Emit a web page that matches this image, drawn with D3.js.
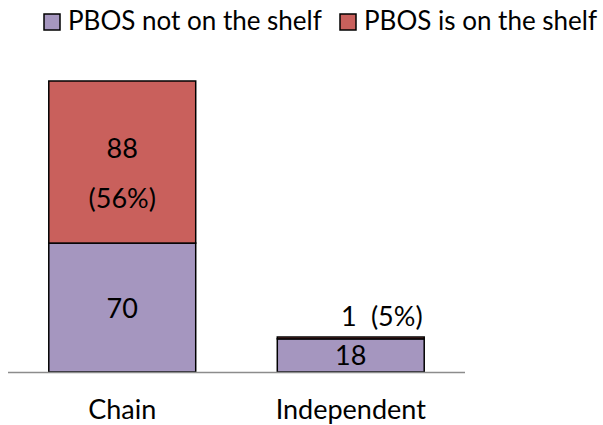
<!DOCTYPE html>
<html>
<head>
<meta charset="utf-8">
<script src="https://cdn.jsdelivr.net/npm/d3@7"></script>
<style>
  body { margin: 0; background: #fff; }
  text { font-family: Lato, "Open Sans", sans-serif; fill: #000; }
</style>
</head>
<body>
<svg width="603" height="425"></svg>
<script>
var categories = ["Chain", "Independent"];
var seriesNames = ["PBOS not on the shelf", "PBOS is on the shelf"];
var notOnShelf = [70, 18];
var onShelf = [88, 1];
var onShelfPct = ["(56%)", "(5%)"];
var colors = ["#A596BF", "#C9605C"];

var svg = d3.select("svg");
var baseY = 372;
var fs = "27px";

var x = d3.scaleBand()
          .domain(categories)
          .range([8, 465])
          .paddingInner(0.357)
          .paddingOuter(0.1785);

var y = d3.scaleLinear()
          .domain([0, 158])
          .range([baseY, 81]);

var data = categories.map(function (c, i) {
  return { cat: c, a: notOnShelf[i], b: onShelf[i], pct: onShelfPct[i] };
});

var g = svg.append("g");

// bottom segment
g.selectAll(".bar-a")
  .data(data)
  .enter().append("rect")
  .attr("x", function (d) { return x(d.cat); })
  .attr("y", function (d) { return y(d.a); })
  .attr("width", x.bandwidth())
  .attr("height", function (d) { return baseY - y(d.a); })
  .attr("fill", colors[0])
  .attr("stroke", "#000")
  .attr("stroke-width", 1.5);

// top segment
g.selectAll(".bar-b")
  .data(data)
  .enter().append("rect")
  .attr("x", function (d) { return x(d.cat); })
  .attr("y", function (d) { return y(d.a + d.b); })
  .attr("width", x.bandwidth())
  .attr("height", function (d) { return y(d.a) - y(d.a + d.b); })
  .attr("fill", colors[1])
  .attr("stroke", "#000")
  .attr("stroke-width", 1.5);

// axis line
g.append("line")
  .attr("x1", 8).attr("x2", 465)
  .attr("y1", baseY + 0.5).attr("y2", baseY + 0.5)
  .attr("stroke", "#8c8c8c")
  .attr("stroke-width", 1.5);

// bottom segment labels
g.selectAll(".lab-a")
  .data(data)
  .enter().append("text")
  .attr("x", function (d) { return x(d.cat) + x.bandwidth() / 2; })
  .attr("y", function (d) { return (baseY + y(d.a)) / 2 + 10; })
  .attr("text-anchor", "middle")
  .style("font-size", fs)
  .text(function (d) { return d.a; });

// Chain top segment labels (inside)
var big = data[0];
var midB = (y(big.a) + y(big.a + big.b)) / 2;
g.append("text")
  .attr("x", x(big.cat) + x.bandwidth() / 2)
  .attr("y", midB - 4)
  .attr("text-anchor", "middle")
  .style("font-size", fs)
  .text(big.b);
g.append("text")
  .attr("x", x(big.cat) + x.bandwidth() / 2)
  .attr("y", midB + 46)
  .attr("text-anchor", "middle")
  .style("font-size", fs)
  .text(big.pct);

// Independent top segment label (above)
var sm = data[1];
g.append("text")
  .attr("x", x(sm.cat) + x.bandwidth() / 2 - 2)
  .attr("y", y(sm.a + sm.b) - 11)
  .attr("text-anchor", "middle")
  .style("font-size", fs)
  .text(sm.b);
g.append("text")
  .attr("x", x(sm.cat) + x.bandwidth() / 2 + 46)
  .attr("y", y(sm.a + sm.b) - 11)
  .attr("text-anchor", "middle")
  .style("font-size", fs)
  .text(sm.pct);

// category labels
g.selectAll(".cat")
  .data(categories)
  .enter().append("text")
  .attr("x", function (d) { return x(d) + x.bandwidth() / 2; })
  .attr("y", 419)
  .attr("text-anchor", "middle")
  .style("font-size", fs)
  .text(function (d) { return d; });

// legend
var legX = [44, 340];
var leg = svg.selectAll(".leg")
  .data(seriesNames)
  .enter().append("g")
  .attr("transform", function (d, i) { return "translate(" + legX[i] + ",14)"; });
leg.append("rect")
  .attr("width", 16).attr("height", 16)
  .attr("fill", function (d, i) { return colors[i]; })
  .attr("stroke", "#000")
  .attr("stroke-width", 1.5);
leg.append("text")
  .attr("x", 24)
  .attr("y", 16)
  .style("font-size", "26px")
  .text(function (d) { return d; });
</script>
</body>
</html>
